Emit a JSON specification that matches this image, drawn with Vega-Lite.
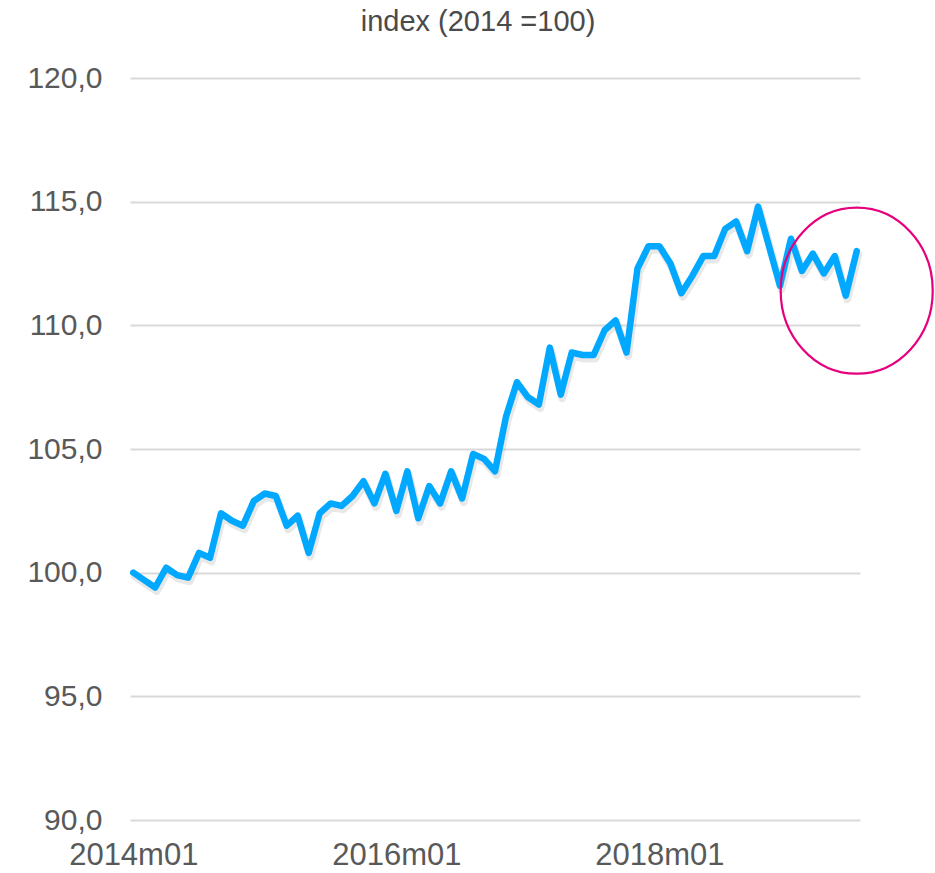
{
  "$schema": "https://vega.github.io/schema/vega-lite/v6.json",
  "width": 730,
  "height": 742,
  "autosize": {"type": "none"},
  "padding": {"left": 130, "top": 78, "right": 75, "bottom": 53},
  "background": "white",
  "config": {
    "view": {"stroke": null},
    "font": "Liberation Sans"
  },
  "title": {
    "text": "index (2014  =100)",
    "fontSize": 29,
    "fontWeight": "normal",
    "color": "#4a4a4a",
    "font": "Liberation Sans",
    "anchor": "middle",
    "offset": 26,
    "dx": -17
  },
  "datasets": {
    "series": [
      {"month": "2014m01", "value": 100.0},
      {"month": "2014m02", "value": 99.7},
      {"month": "2014m03", "value": 99.4},
      {"month": "2014m04", "value": 100.2},
      {"month": "2014m05", "value": 99.9},
      {"month": "2014m06", "value": 99.8},
      {"month": "2014m07", "value": 100.8},
      {"month": "2014m08", "value": 100.6},
      {"month": "2014m09", "value": 102.4},
      {"month": "2014m10", "value": 102.1},
      {"month": "2014m11", "value": 101.9},
      {"month": "2014m12", "value": 102.9},
      {"month": "2015m01", "value": 103.2},
      {"month": "2015m02", "value": 103.1},
      {"month": "2015m03", "value": 101.9},
      {"month": "2015m04", "value": 102.3},
      {"month": "2015m05", "value": 100.8},
      {"month": "2015m06", "value": 102.4},
      {"month": "2015m07", "value": 102.8},
      {"month": "2015m08", "value": 102.7},
      {"month": "2015m09", "value": 103.1},
      {"month": "2015m10", "value": 103.7},
      {"month": "2015m11", "value": 102.8},
      {"month": "2015m12", "value": 104.0},
      {"month": "2016m01", "value": 102.5},
      {"month": "2016m02", "value": 104.1},
      {"month": "2016m03", "value": 102.2},
      {"month": "2016m04", "value": 103.5},
      {"month": "2016m05", "value": 102.8},
      {"month": "2016m06", "value": 104.1},
      {"month": "2016m07", "value": 103.0},
      {"month": "2016m08", "value": 104.8},
      {"month": "2016m09", "value": 104.6},
      {"month": "2016m10", "value": 104.1},
      {"month": "2016m11", "value": 106.3},
      {"month": "2016m12", "value": 107.7},
      {"month": "2017m01", "value": 107.1},
      {"month": "2017m02", "value": 106.8},
      {"month": "2017m03", "value": 109.1},
      {"month": "2017m04", "value": 107.2},
      {"month": "2017m05", "value": 108.9},
      {"month": "2017m06", "value": 108.8},
      {"month": "2017m07", "value": 108.8},
      {"month": "2017m08", "value": 109.8},
      {"month": "2017m09", "value": 110.2},
      {"month": "2017m10", "value": 108.9},
      {"month": "2017m11", "value": 112.3},
      {"month": "2017m12", "value": 113.2},
      {"month": "2018m01", "value": 113.2},
      {"month": "2018m02", "value": 112.5},
      {"month": "2018m03", "value": 111.3},
      {"month": "2018m04", "value": 112.0},
      {"month": "2018m05", "value": 112.8},
      {"month": "2018m06", "value": 112.8},
      {"month": "2018m07", "value": 113.9},
      {"month": "2018m08", "value": 114.2},
      {"month": "2018m09", "value": 113.0},
      {"month": "2018m10", "value": 114.8},
      {"month": "2018m11", "value": 113.2},
      {"month": "2018m12", "value": 111.6},
      {"month": "2019m01", "value": 113.5},
      {"month": "2019m02", "value": 112.2},
      {"month": "2019m03", "value": 112.9},
      {"month": "2019m04", "value": 112.1},
      {"month": "2019m05", "value": 112.8},
      {"month": "2019m06", "value": 111.2},
      {"month": "2019m07", "value": 113.0}
    ],
    "highlight": [
      {"month": "2019m07", "value": 111.4}
    ]
  },
  "encoding": {
    "x": {
      "field": "month",
      "type": "ordinal",
      "scale": {"type": "point", "padding": 0.3},
      "axis": {
        "title": null,
        "values": ["2014m01", "2016m01", "2018m01"],
        "labelAngle": 0,
        "labelFontSize": 31,
        "labelColor": "#595959",
        "labelFont": "Liberation Sans",
        "labelPadding": 20,
        "ticks": false,
        "domain": false,
        "grid": false
      }
    },
    "y": {
      "field": "value",
      "type": "quantitative",
      "scale": {"domain": [90, 120], "nice": false, "zero": false},
      "axis": {
        "title": null,
        "values": [90, 95, 100, 105, 110, 115, 120],
        "labelExpr": "replace(format(datum.value, '.1f'), '.', ',')",
        "labelFontSize": 30,
        "labelColor": "#595959",
        "labelFont": "Liberation Sans",
        "labelPadding": 28,
        "ticks": false,
        "domain": false,
        "grid": true,
        "gridColor": "#d9d9d9",
        "gridWidth": 2
      }
    }
  },
  "layer": [
    {
      "data": {"name": "series"},
      "mark": {"type": "line", "color": "#7f7f7f", "strokeWidth": 8, "opacity": 0.18, "xOffset": 1.5, "yOffset": 3.5, "strokeJoin": "round", "strokeCap": "round"}
    },
    {
      "data": {"name": "series"},
      "mark": {"type": "line", "color": "#00A8FF", "strokeWidth": 6.5, "strokeJoin": "round", "strokeCap": "round"}
    },
    {
      "data": {"name": "highlight"},
      "mark": {
        "type": "point",
        "shape": "M -0.916 0 A 0.916 1 0 1 0 0.916 0 A 0.916 1 0 1 0 -0.916 0 Z",
        "size": 27556,
        "filled": false,
        "stroke": "#E6007E",
        "strokeWidth": 2.2,
        "opacity": 1,
        "clip": false
      }
    }
  ]
}
